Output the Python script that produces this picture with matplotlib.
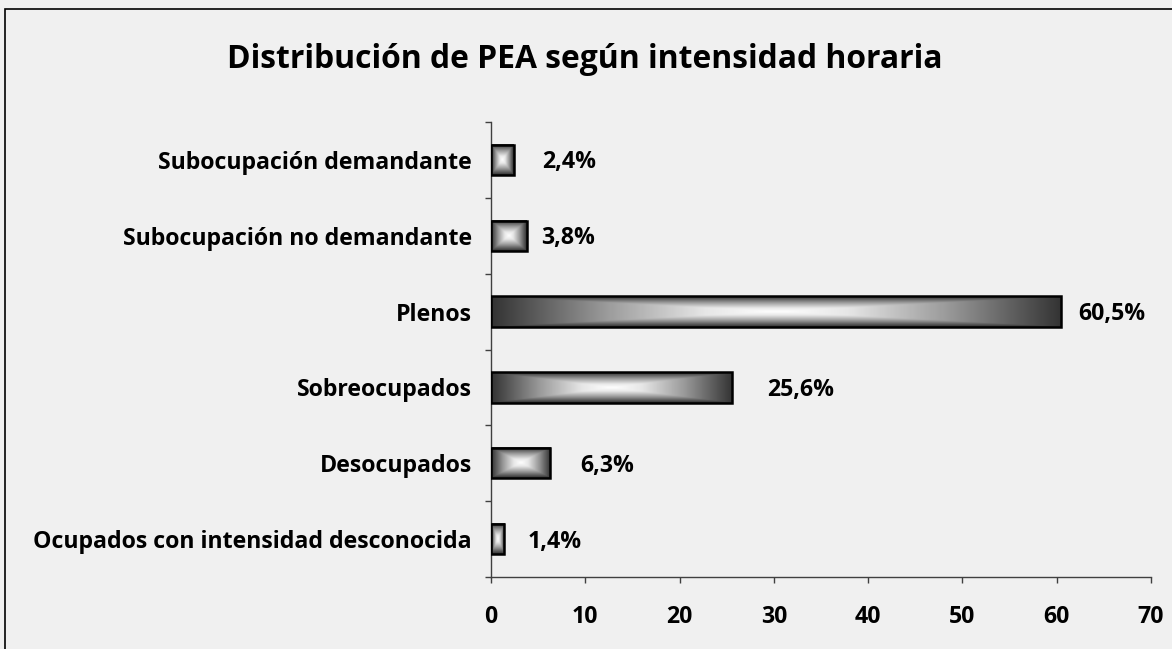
import numpy as np
import matplotlib
matplotlib.use("Agg")
import matplotlib.pyplot as plt
from matplotlib.patches import Rectangle
from matplotlib.colors import LinearSegmentedColormap

categories = ["Ocupados con intensidad desconocida", "Desocupados", "Sobreocupados",
              "Plenos", "Subocupación no demandante", "Subocupación demandante"]
values = [1.4, 6.3, 25.6, 60.5, 3.8, 2.4]
value_labels = ["1,4%", "6,3%", "25,6%", "60,5%", "3,8%", "2,4%"]
label_offsets_px = [23, 30, 35, 17, 14, 29]
x_ticks = [0, 10, 20, 30, 40, 50, 60, 70]
title = "Distribución de PEA según intensidad horaria"

FONT = ['Open Sans', 'DejaVu Sans']
plt.rcParams['font.family'] = FONT
BG = "#f0f0f0"

fig = plt.figure(figsize=(11.72, 6.49), dpi=100, facecolor=BG)
renderer = fig.canvas.get_renderer()


def fit_size(text, target_px, start=14.0):
    t = fig.text(0, 0, text, fontsize=start, fontweight="bold")
    w = t.get_window_extent(renderer).width
    t.remove()
    return start * target_px / w


lab_fs = fit_size(categories[0], 442)
title_fs = fit_size(title, 714, 22)

ax = fig.add_axes([491/1172, 1-577/649, (1151-491)/1172, (577-122)/649])
ax.set_facecolor(BG)

cmap = LinearSegmentedColormap.from_list("g", [(0, "#ffffff"), (0.25, "#e6e6e6"),
                                              (0.6, "#9a9a9a"), (1, "#333333")])
bar_h = 0.4
ax.set_xlim(0, 70)
ax.set_ylim(-0.5, len(categories) - 0.5)
px_per_x = ax.transData.transform((1, 0))[0] - ax.transData.transform((0, 0))[0]
px_per_y = ax.transData.transform((0, 1))[1] - ax.transData.transform((0, 0))[1]

bars = ax.barh(range(len(categories)), values, height=bar_h, facecolor="none",
               edgecolor="black", linewidth=1.8, zorder=3)
for i, v in enumerate(values):
    W = max(int(v * px_per_x), 2)
    H = max(int(bar_h * px_per_y), 2)
    u = np.abs(np.linspace(-1, 1, W))[None, :]
    w = np.abs(np.linspace(-1, 1, H))[:, None]
    t = np.maximum(u, w)
    ax.imshow(t, cmap=cmap, vmin=0, vmax=1, extent=(0, v, i - bar_h/2, i + bar_h/2),
              aspect="auto", interpolation="bilinear", zorder=2)
    ax.annotate(value_labels[i], (v, i), xytext=(label_offsets_px[i] * 0.72, -2.5 * 0.72),
                textcoords="offset points", ha="left", va="center",
                fontsize=lab_fs, fontweight="bold")

ax.set_xlim(0, 70)
ax.set_ylim(-0.5, len(categories) - 0.5)
ax.set_xticks(x_ticks)
ax.set_xticklabels([str(x) for x in x_ticks], fontsize=lab_fs, fontweight="bold")
ax.set_yticks(np.arange(len(categories) + 1) - 0.5)
ax.set_yticklabels([])
ax.set_yticks(range(len(categories)), minor=True)
ax.set_yticklabels(categories, minor=True, fontsize=lab_fs, fontweight="bold")
ax.tick_params(axis="y", which="minor", length=0, pad=19 * 0.72)
ax.tick_params(axis="y", which="major", length=6 * 0.72, width=1, color="#404040", direction="out")
ax.tick_params(axis="x", length=6 * 0.72, width=1, color="#404040", direction="out", pad=22 * 0.72)
for s in ["top", "right"]:
    ax.spines[s].set_visible(False)
for s in ["left", "bottom"]:
    ax.spines[s].set_color("#404040")
    ax.spines[s].set_linewidth(1)

fig.text(585/1172, 1-60/649, title, ha="center", va="center", fontsize=title_fs, fontweight="bold")
fig.patches.append(Rectangle((5/1172, -10/649), 1180/1172, 650/649, transform=fig.transFigure,
                             fill=False, edgecolor="black", linewidth=1.2))

fig.savefig("out.png", dpi=100, facecolor=BG)
